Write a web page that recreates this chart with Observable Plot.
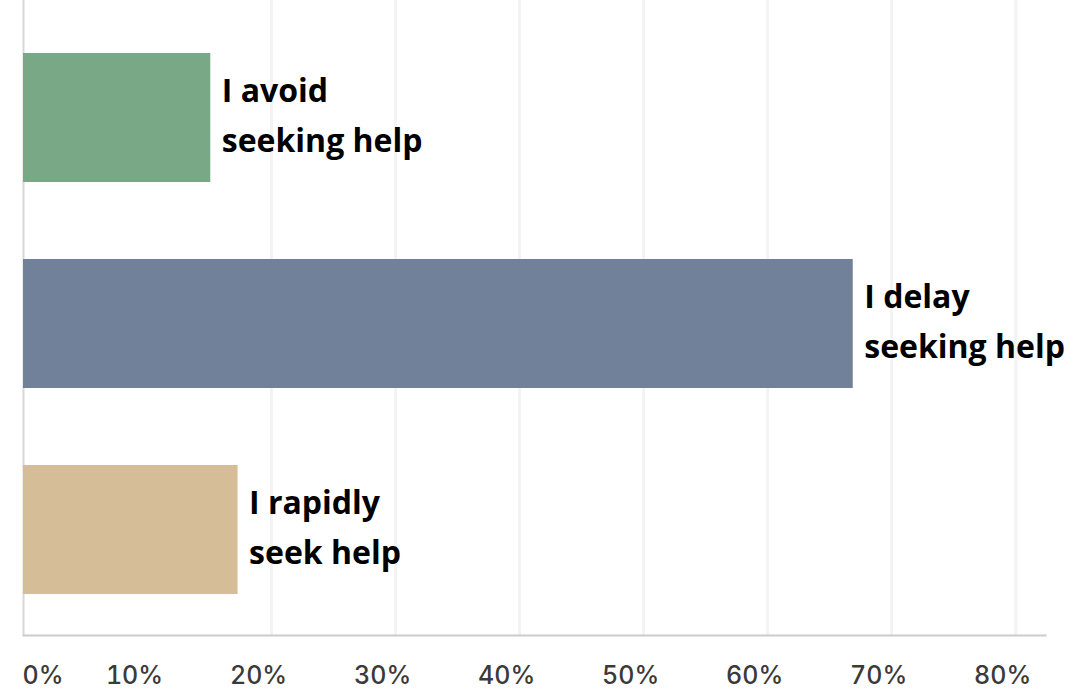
<!DOCTYPE html>
<html>
<head>
<meta charset="utf-8">
<script src="https://cdn.jsdelivr.net/npm/d3@7"></script>
<script src="https://cdn.jsdelivr.net/npm/@observablehq/plot@0.6"></script>
<style>
  html, body { margin: 0; padding: 0; background: #fff; }
  #chart svg { display: block; overflow: visible; }
</style>
</head>
<body>
<div id="chart"></div>
<script>
// Data
const categories = ["I avoid seeking help", "I delay seeking help", "I rapidly seek help"];
const labels = ["I avoid\nseeking help", "I delay\nseeking help", "I rapidly\nseek help"];
const values = [15.1, 66.9, 17.3];
const tickValues = [0, 10, 20, 30, 40, 50, 60, 70, 80];
const gridValues = [20, 30, 40, 50, 60, 70, 80];

const data = categories.map((c, i) => ({category: c, label: labels[i], value: values[i]}));

const chart = Plot.plot({
  width: 1086,
  height: 691,
  marginLeft: 23,
  marginRight: 41,
  marginTop: 0,
  marginBottom: 56,
  style: {background: "#fff", overflow: "visible"},
  x: {domain: [0, 82.4], label: null},
  y: {domain: categories, range: [52, 595], padding: 0.375, paddingOuter: 0, axis: null},
  color: {domain: categories, range: ["#79a886", "#72819a", "#d5bd98"]},
  marks: [
    Plot.ruleX(gridValues, {stroke: "#f3f3f3", strokeWidth: 3}),
    Plot.ruleX([0], {stroke: "#d8d8d8", strokeWidth: 2}),
    Plot.frame({anchor: "bottom", stroke: "#cccccc", strokeWidth: 2}),
    Plot.barX(data, {x: "value", y: "category", fill: "category"}),
    Plot.text(data, {
      x: "value", y: "category", text: "label",
      textAnchor: "start", dx: 11, dy: -7,
      fontSize: 32, fontWeight: "bold", fill: "#000",
      fontFamily: "'Open Sans', sans-serif", lineHeight: 1.55
    }),
    Plot.axisX([0], {
      tickSize: 0, tickPadding: 31, fontSize: 25, fill: "#3a3a3a", label: null,
      textAnchor: "start", dx: -1, fontWeight: 500,
      tickFormat: d => d + "%", fontFamily: "Inter, 'Open Sans', sans-serif"
    }),
    Plot.axisX(tickValues.slice(1), {
      tickSize: 0, tickPadding: 31, fontSize: 25, fill: "#3a3a3a", label: null,
      dx: -13, fontWeight: 500,
      tickFormat: d => d + "%", fontFamily: "Inter, 'Open Sans', sans-serif"
    })
  ]
});
document.getElementById("chart").appendChild(chart);
</script>
</body>
</html>
